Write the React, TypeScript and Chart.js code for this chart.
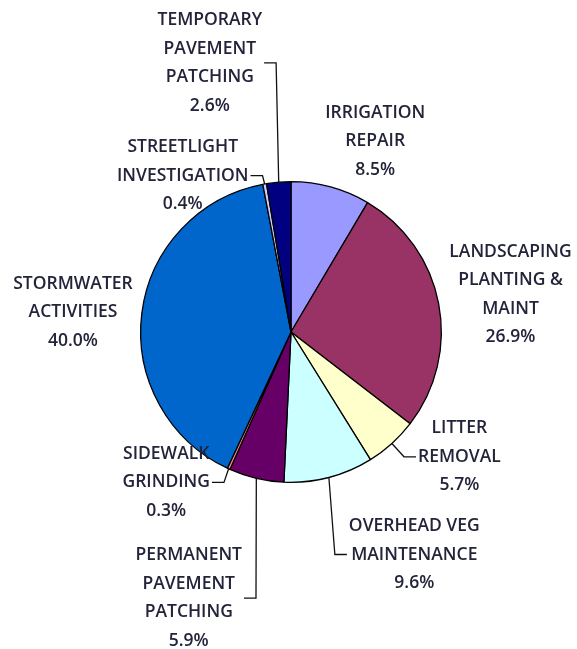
import React, { useEffect, useRef } from "react";
import { Chart, registerables } from "chart.js";

Chart.register(...registerables);

const categories: string[][] = [
  ["IRRIGATION", "REPAIR"],
  ["LANDSCAPING", "PLANTING &", "MAINT"],
  ["LITTER", "REMOVAL"],
  ["OVERHEAD VEG", "MAINTENANCE"],
  ["PERMANENT", "PAVEMENT", "PATCHING"],
  ["SIDEWALK", "GRINDING"],
  ["STORMWATER", "ACTIVITIES"],
  ["STREETLIGHT", "INVESTIGATION"],
  ["TEMPORARY", "PAVEMENT", "PATCHING"],
];

const shares: number[] = [8.5, 26.9, 5.7, 9.6, 5.9, 0.3, 40.0, 0.4, 2.6];

const sliceColors: string[] = [
  "#9999FF",
  "#993366",
  "#FFFFCC",
  "#CCFFFF",
  "#660066",
  "#FF8080",
  "#0066CC",
  "#CCCCFF",
  "#000080",
];

// label block centre, relative to pie centre, in units of the pie radius
const labelOffsets: [number, number][] = [
  [0.56, -1.27],
  [1.46, -0.25],
  [1.12, 0.83],
  [0.82, 1.48],
  [-0.68, 1.77],
  [-0.83, 1.0],
  [-1.45, -0.13],
  [-0.72, -1.04],
  [-0.54, -1.79],
];

const leaderShown: boolean[] = [false, false, true, true, true, true, false, true, true];

const FONT = '600 17.5px "Open Sans"';
const LINE_H = 28.5;
const TEXT_COLOR = "#23233a";

const labelPlugin = {
  id: "outsideLabels",
  afterDraw(chart: any) {
    const ctx = chart.ctx as CanvasRenderingContext2D;
    const meta = chart.getDatasetMeta(0);
    ctx.save();
    ctx.font = FONT;
    ctx.textAlign = "center";
    ctx.textBaseline = "middle";
    meta.data.forEach((arc: any, i: number) => {
      const { x, y, outerRadius, startAngle, endAngle } = arc.getProps(
        ["x", "y", "outerRadius", "startAngle", "endAngle"],
        true
      );
      const lines = [...categories[i], shares[i].toFixed(1) + "%"];
      const cx = x + labelOffsets[i][0] * outerRadius;
      const cy = y + labelOffsets[i][1] * outerRadius;
      const widths = lines.map((l) => ctx.measureText(l).width);
      const bw = Math.max(...widths);
      const bh = lines.length * LINE_H;
      const left = cx - bw / 2;
      const right = cx + bw / 2;
      const top = cy - bh / 2;
      const mid = (startAngle + endAngle) / 2;
      const ax = x + Math.cos(mid) * outerRadius;
      const ay = y + Math.sin(mid) * outerRadius;
      if (leaderShown[i]) {
        const side = ax > cx ? right + 2 : left - 2;
        const dir = ax > cx ? 1 : -1;
        const h = Math.min(12, Math.abs(ax - side));
        ctx.beginPath();
        ctx.strokeStyle = "#111";
        ctx.lineWidth = 1.3;
        ctx.moveTo(side, cy);
        ctx.lineTo(side + dir * h, cy);
        ctx.lineTo(ax, ay);
        ctx.stroke();
      }
      ctx.fillStyle = TEXT_COLOR;
      lines.forEach((l, k) => {
        ctx.fillText(l, cx, top + LINE_H / 2 + k * LINE_H);
      });
    });
    ctx.restore();
  },
};

export default function App() {
  const ref = useRef<HTMLCanvasElement | null>(null);
  useEffect(() => {
    document.body.style.margin = "0";
    if (!ref.current) return;
    const chart = new Chart(ref.current, {
      type: "pie",
      data: {
        labels: categories.map((c) => c.join(" ")),
        datasets: [
          {
            data: shares,
            backgroundColor: sliceColors,
            borderColor: "#000000",
            borderWidth: 1.3,
          },
        ],
      },
      options: {
        responsive: false,
        animation: false,
        layout: { padding: { left: 140, right: 135, top: 181, bottom: 166 } },
        plugins: {
          legend: { display: false },
          tooltip: { enabled: false },
        },
      },
      plugins: [labelPlugin],
    });
    return () => chart.destroy();
  }, []);
  return (
    <div style={{ width: 577, height: 649, background: "#fff" }}>
      <canvas ref={ref} width={577} height={649} />
    </div>
  );
}
